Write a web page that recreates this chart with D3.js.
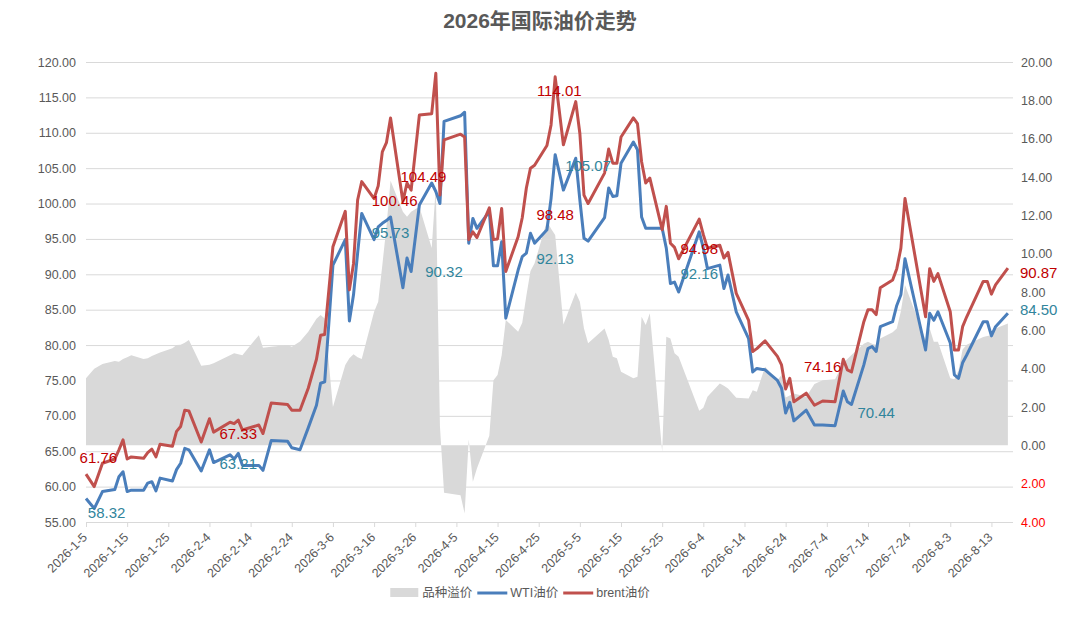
<!DOCTYPE html>
<html>
<head>
<meta charset="utf-8">
<script src="https://cdn.jsdelivr.net/npm/d3@7"></script>
<style>
    html, body { margin: 0; padding: 0; background: #ffffff; }
    #chart { width: 1080px; height: 623px; }
    text { font-family: "Liberation Sans", "Noto Sans CJK SC", sans-serif; }
</style>
</head>
<body>
<div id="chart"></div>
<script>
// Trading dates (month-day, year 2026)
const dates = [
    '1-5', '1-7', '1-9', '1-12', '1-13', '1-14', '1-15', '1-16', '1-19', '1-20', '1-21', '1-22', '1-23', '1-26', '1-27', '1-28', '1-29', '1-30',
    '2-2', '2-4', '2-5', '2-9', '2-10', '2-11', '2-12', '2-16', '2-17', '2-19', '2-23', '2-24', '2-26', '2-28',
    '3-2', '3-3', '3-4', '3-6', '3-9', '3-10', '3-11', '3-12', '3-13', '3-16', '3-17', '3-18', '3-19', '3-20', '3-23', '3-24', '3-25', '3-27', '3-30', '3-31',
    '4-1', '4-2', '4-6', '4-7', '4-8', '4-9', '4-10', '4-13', '4-14', '4-15', '4-16', '4-17', '4-20', '4-21', '4-22', '4-23', '4-24', '4-27', '4-28', '4-29',
    '5-1', '5-4', '5-5', '5-6', '5-7', '5-11', '5-12', '5-13', '5-14', '5-15', '5-18', '5-19', '5-20', '5-21', '5-22', '5-25', '5-26', '5-27', '5-28', '5-29',
    '6-3', '6-4', '6-5', '6-8', '6-9', '6-10', '6-12', '6-15', '6-16', '6-17', '6-19', '6-22', '6-23', '6-24', '6-25', '6-26', '6-29',
    '7-1', '7-3', '7-6', '7-8', '7-9', '7-10', '7-13', '7-14', '7-15', '7-16', '7-17', '7-20', '7-21', '7-22', '7-23', '7-28', '7-29', '7-30', '7-31',
    '8-3', '8-4', '8-5', '8-6', '8-7', '8-11', '8-12', '8-13', '8-14', '8-17'
];

// WTI油价
const wtiPrices = [
    58.32, 56.9, 59.3, 59.6, 61.4, 62.1, 59.3, 59.5, 59.5, 60.5, 60.7, 59.4, 61.2, 60.8, 62.4, 63.3, 65.4, 65.2,
    62.2, 65.2, 63.4, 64.5, 63.9, 64.7, 63.0, 63.0, 62.3, 66.5, 66.4, 65.5, 65.2, 68.3,
    71.5, 74.6, 74.8, 91.3, 94.9, 83.4, 87.1, 93.0, 98.6, 94.9, 96.7, 97.2, 97.6, 98.1, 88.1, 92.3, 90.4, 99.8, 102.9, 101.7,
    100.0, 111.6, 112.4, 112.9, 94.4, 97.9, 96.5, 98.9, 91.2, 91.2, 94.6, 83.8, 90.6, 92.5, 93.0, 95.8, 94.4, 96.3, 100.7, 106.9,
    101.9, 106.4, 100.5, 95.1, 94.7, 98.0, 102.2, 101.0, 101.1, 105.7, 108.7, 107.6, 98.1, 96.5, 96.5, 96.5, 93.7, 88.7, 88.9, 87.5,
    96.0, 93.7, 90.8, 91.3, 88.0, 89.9, 84.7, 80.9, 76.2, 76.7, 76.5, 75.0, 73.9, 70.4, 71.9, 69.3, 70.8,
    68.7, 68.7, 68.6, 73.5, 72.0, 71.6, 77.2, 79.5, 79.8, 79.1, 82.6, 83.3, 85.6, 87.1, 92.2, 79.3, 84.5, 83.5, 84.7,
    80.3, 75.8, 75.3, 77.5, 78.6, 83.3, 83.3, 81.3, 82.6, 84.50
];

// brent油价
const brentPrices = [
    61.76, 60.0, 63.3, 63.9, 65.2, 66.6, 63.9, 64.2, 64.0, 64.8, 65.3, 64.2, 66.0, 65.7, 67.8, 68.5, 70.8, 70.7,
    66.3, 69.6, 67.7, 69.1, 68.9, 69.4, 68.0, 68.7, 67.5, 71.8, 71.6, 70.8, 70.8, 73.9,
    78.0, 81.4, 81.5, 93.9, 98.9, 87.8, 91.5, 100.5, 103.1, 100.7, 102.5, 107.3, 108.6, 112.1, 100.3, 102.9, 101.9, 112.5, 112.7, 118.4,
    101.2, 109.0, 109.8, 109.4, 94.9, 96.0, 95.2, 99.4, 94.9, 95.0, 99.3, 90.4, 95.3, 98.0, 102.2, 105.0, 105.4, 108.2, 111.1, 117.9,
    108.3, 114.4, 109.9, 101.2, 100.0, 104.3, 107.7, 105.7, 105.7, 109.4, 112.1, 111.3, 105.9, 102.9, 103.6, 96.3, 99.6, 94.4, 93.8, 92.2,
    97.8, 95.6, 93.7, 94.1, 92.3, 93.1, 87.3, 83.5, 79.1, 79.5, 80.6, 78.4, 77.2, 73.8, 75.3, 72.0, 73.2,
    71.5, 72.1, 72.0, 78.0, 76.5, 76.2, 83.3, 85.0, 85.0, 84.3, 88.1, 89.2, 90.8, 93.7, 100.7, 84.0, 90.8, 89.0, 90.1,
    84.7, 79.3, 79.3, 82.6, 84.0, 89.0, 89.0, 87.2, 88.5, 90.87
];

// 品种溢价 (right axis)
const spreadValues = [
    3.5, 4.0, 4.25, 4.4, 4.36, 4.5, 4.6, 4.7, 4.5, 4.55, 4.66, 4.75, 4.85, 5.06, 5.23, 5.25, 5.35, 5.49,
    4.15, 4.2, 4.28, 4.7, 4.8, 4.75, 4.7, 5.75, 5.09, 5.14, 5.23, 5.14, 5.42, 5.93,
    6.6, 6.8, 6.62, 2.0, 4.19, 4.54, 4.75, 4.6, 4.5, 6.97, 7.49, 9.4, 11.4, 13.8, 12.19, 11.93, 12.19, 12.45, 10.3, 13.5,
    1.0, -2.47, -2.6, -3.55, 0.3, -1.9, -1.2, 0.5, 3.4, 3.67, 4.7, 6.54, 5.93, 6.4, 7.8, 9.1, 9.5, 11.7, 11.3, 10.97,
    6.3, 7.98, 7.49, 6.1, 5.32, 6.1, 5.49, 4.62, 4.54, 3.84, 3.5, 3.58, 6.71, 6.28, 6.89, -0.33, 5.67, 5.58, 4.8, 4.62,
    1.8, 1.96, 2.54, 3.23, 3.11, 2.97, 2.48, 2.45, 2.88, 2.8, 4.1, 3.4, 3.67, 2.5, 2.6, 2.71, 2.54,
    3.2, 3.4, 3.45, 4.3, 4.5, 4.71, 5.3, 5.4, 5.3, 5.23, 5.58, 5.9, 6.1, 7.0, 8.36, 5.49, 6.1, 5.4, 5.4,
    3.5, 3.45, 3.9, 5.0, 5.25, 5.65, 5.7, 5.75, 6.1, 6.36
];

// Value labels shown on the chart
const brentLabelDates = ['1-8', '2-11', '3-21', '3-28', '4-30', '4-29', '6-3', '7-3', '8-17'];
const brentLabelValues = [61.76, 67.33, 100.46, 104.49, 114.01, 98.48, 94.98, 74.16, 90.87];
const wtiLabelDates = ['1-10', '2-11', '3-20', '4-2', '4-29', '5-7', '6-3', '7-16', '8-17'];
const wtiLabelValues = [58.32, 63.21, 95.73, 90.32, 92.13, 105.07, 92.16, 70.44, 84.50];

// Label nudges (layout only)
const brentLabelDy = [-17, -1, 0, 5, -14, 0, 10, -20, 4];
const wtiLabelDy = [14, 0, -1, 0, -1, -2, 15, 0, -4];

const leftTicks = d3.range(55, 121, 5);
const rightTicks = d3.range(-4, 21, 2);

const parseDay = d3.timeParse('%Y-%m-%d');
const toDate = s => parseDay('2026-' + s);

class OilPriceChart {
    constructor(container) {
        this.container = container;
        this.svg = null;
        this.init();
    }

    init() {
        this.svg = d3.select(this.container)
            .append('svg')
            .attr('width', 1080)
            .attr('height', 623);
    }

    update() {
        const width = 1080;
        const height = 623;
        const margin = { top: 62, right: 68, bottom: 101, left: 86 };
        const chartWidth = width - margin.left - margin.right;
        const chartHeight = height - margin.top - margin.bottom;
        const axisColor = '#595959';
        const gridColor = '#d9d9d9';

        const data = dates.map((d, i) => ({
            date: toDate(d),
            wti: wtiPrices[i],
            brent: brentPrices[i],
            spread: spreadValues[i]
        }));

        const x = d3.scaleTime()
            .domain([toDate('1-5'), toDate('8-18')])
            .range([0, chartWidth]);

        const yLeft = d3.scaleLinear()
            .domain([55, 120])
            .range([chartHeight, 0]);

        const yRight = d3.scaleLinear()
            .domain([-4, 20])
            .range([chartHeight, 0]);

        this.svg.selectAll('*').remove();

        // Add title
        this.svg.append('text')
            .attr('x', width / 2)
            .attr('y', 28)
            .attr('text-anchor', 'middle')
            .style('font-size', '21px')
            .style('font-weight', 'bold')
            .style('fill', axisColor)
            .text('2026年国际油价走势');

        const g = this.svg.append('g')
            .attr('transform', `translate(${margin.left}, ${margin.top})`);

        // Add grid lines
        g.append('g')
            .attr('class', 'grid')
            .call(d3.axisLeft(yLeft)
                .tickValues(leftTicks)
                .tickSize(-chartWidth - 1)
                .tickFormat('')
            )
            .call(s => s.select('.domain').remove())
            .selectAll('line')
            .style('stroke', gridColor)
            .style('stroke-width', 1);

        // Spread area on the right axis
        const area = d3.area()
            .x(d => x(d.date))
            .y0(yRight(0))
            .y1(d => yRight(d.spread));

        g.append('path')
            .datum(data)
            .attr('d', area)
            .style('fill', '#d9d9d9')
            .style('stroke', 'none');

        // X axis line and ticks
        const xTicks = d3.timeDay.range(toDate('1-5'), toDate('8-18'), 10);
        const xAxis = g.append('g')
            .attr('transform', `translate(0, ${chartHeight})`)
            .call(d3.axisBottom(x)
                .tickValues(xTicks)
                .tickSize(5)
                .tickSizeOuter(0)
                .tickFormat('')
            );
        xAxis.select('.domain').style('stroke', gridColor);
        xAxis.selectAll('line').style('stroke', gridColor);

        const tickFormat = d3.timeFormat('%Y-%-m-%-d');
        g.append('g')
            .selectAll('text')
            .data(xTicks)
            .enter().append('text')
            .attr('transform', d => `translate(${x(d) + 2}, ${chartHeight + 16}) rotate(-45)`)
            .attr('text-anchor', 'end')
            .style('font-size', '12.5px')
            .style('fill', axisColor)
            .text(d => tickFormat(d));

        // Price lines
        const wtiLine = d3.line()
            .x(d => x(d.date))
            .y(d => yLeft(d.wti));
        const brentLine = d3.line()
            .x(d => x(d.date))
            .y(d => yLeft(d.brent));

        g.append('path')
            .datum(data)
            .attr('d', wtiLine)
            .style('fill', 'none')
            .style('stroke', '#4a7ebb')
            .style('stroke-width', 3)
            .style('stroke-linejoin', 'round');

        g.append('path')
            .datum(data)
            .attr('d', brentLine)
            .style('fill', 'none')
            .style('stroke', '#c0504d')
            .style('stroke-width', 3)
            .style('stroke-linejoin', 'round');

        // Left axis
        g.append('g')
            .call(d3.axisLeft(yLeft)
                .tickValues(leftTicks)
                .tickSize(0)
                .tickPadding(10)
                .tickFormat(d3.format('.2f'))
            )
            .call(s => s.select('.domain').remove())
            .selectAll('text')
            .style('font-size', '12.5px')
            .style('font-family', '"Liberation Sans", sans-serif')
            .style('fill', axisColor);

        // Right axis (below zero shown in red)
        g.append('g')
            .attr('transform', `translate(${chartWidth}, 0)`)
            .call(d3.axisRight(yRight)
                .tickValues(rightTicks)
                .tickSize(0)
                .tickPadding(9)
                .tickFormat(d => Math.abs(d).toFixed(2))
            )
            .call(s => s.select('.domain').remove())
            .selectAll('text')
            .style('font-size', '12.5px')
            .style('font-family', '"Liberation Sans", sans-serif')
            .style('fill', d => d < 0 ? '#ff0000' : axisColor);

        // Add value labels
        const addLabels = (labelDates, labelValues, labelDy, color) => {
            const last = dates[dates.length - 1];
            g.append('g')
                .selectAll('text')
                .data(labelValues)
                .enter().append('text')
                .attr('x', (d, i) => x(toDate(labelDates[i])) + (labelDates[i] === last ? 12 : 0))
                .attr('y', (d, i) => yLeft(d) + labelDy[i])
                .attr('dy', '0.36em')
                .attr('text-anchor', (d, i) => labelDates[i] === last ? 'start' : 'middle')
                .style('font-size', '15px')
                .style('fill', color)
                .text(d => d.toFixed(2));
        };
        addLabels(brentLabelDates, brentLabelValues, brentLabelDy, '#c00000');
        addLabels(wtiLabelDates, wtiLabelValues, wtiLabelDy, '#31859c');

        // Legend
        const legend = this.svg.append('g');
        const items = [
            { name: '品种溢价', type: 'area', color: '#d9d9d9' },
            { name: 'WTI油价', type: 'line', color: '#4a7ebb' },
            { name: 'brent油价', type: 'line', color: '#c0504d' }
        ];
        let cursor = 0;
        items.forEach(item => {
            const ig = legend.append('g');
            if (item.type === 'area') {
                ig.append('rect')
                    .attr('x', 0).attr('y', -5)
                    .attr('width', 28).attr('height', 9)
                    .style('fill', item.color);
            } else {
                ig.append('line')
                    .attr('x1', 0).attr('x2', 30)
                    .attr('y1', 0).attr('y2', 0)
                    .style('stroke', item.color)
                    .style('stroke-width', 3);
            }
            const textX = item.type === 'area' ? 32 : 33;
            const t = ig.append('text')
                .attr('x', textX)
                .attr('y', 0)
                .attr('dy', '0.35em')
                .style('font-size', '12.5px')
                .style('fill', axisColor)
                .text(item.name);
            ig.attr('transform', `translate(${cursor}, 0)`);
            cursor += textX + t.node().getComputedTextLength() + 5;
        });
        const total = cursor - 5;
        legend.attr('transform', `translate(${520 - total / 2}, 593)`);
    }
}

const chart = new OilPriceChart(document.getElementById('chart'));
chart.update();
</script>
</body>
</html>
